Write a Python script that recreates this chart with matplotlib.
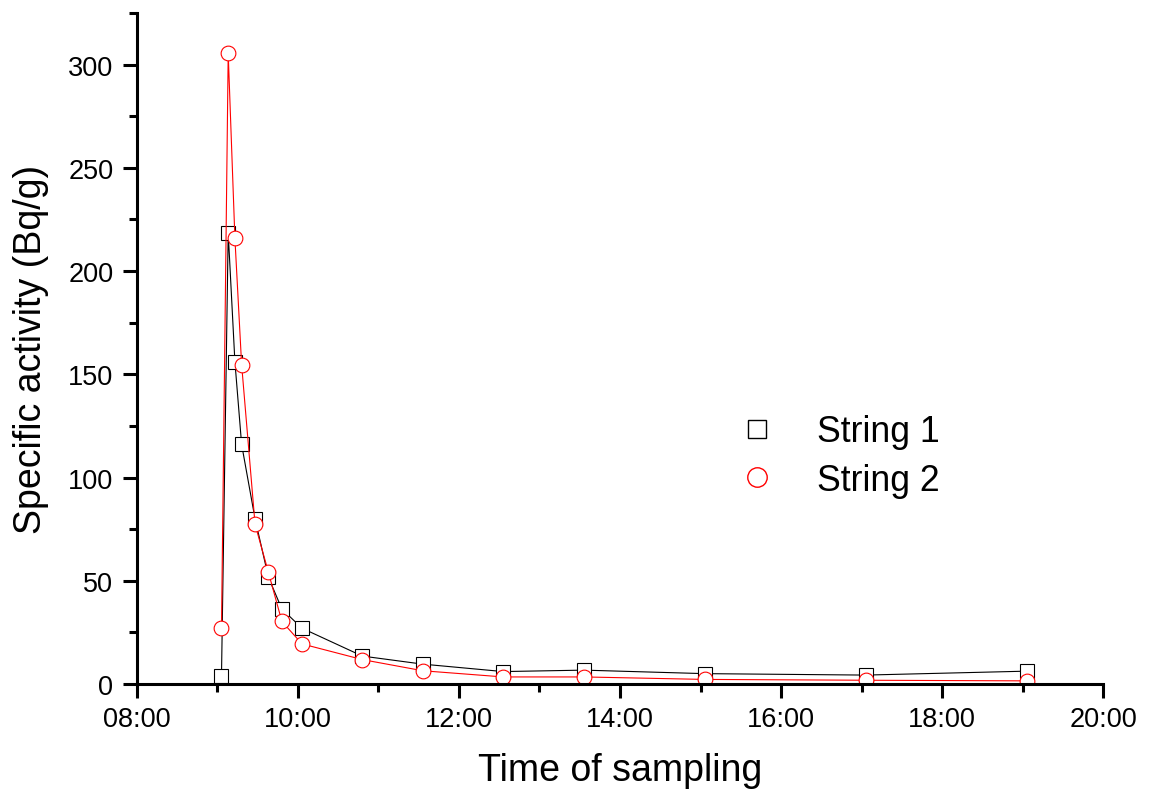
import numpy as np
import matplotlib
matplotlib.use('Agg')
import matplotlib.pyplot as plt
from matplotlib.lines import Line2D
from matplotlib.ticker import MultipleLocator, FuncFormatter

plt.rcParams['font.family'] = ['Liberation Sans', 'DejaVu Sans']

# sampling times (hh:mm) and specific activities in Bq/g
times = ['09:03', '09:08', '09:13', '09:18', '09:28', '09:38', '09:48', '10:03',
         '10:48', '11:33', '12:33', '13:33', '15:03', '17:03', '19:03']
string1 = [4.0, 218.5, 156.0, 116.0, 80.0, 51.6, 36.3, 27.0,
           13.5, 9.6, 6.0, 6.7, 5.0, 4.3, 6.2]
string2 = [27.2, 305.4, 215.8, 154.7, 77.4, 54.0, 30.3, 19.4,
           11.8, 6.4, 3.4, 3.4, 2.2, 1.8, 1.5]

hours = np.array([int(t[:2]) + int(t[3:]) / 60. for t in times])

fig = plt.figure(figsize=(11.49, 8.03), dpi=100)
ax = fig.add_axes([0.1192, 0.147, 0.8408, 0.8356])

ax.plot(hours, string1, color='black', linewidth=0.8, marker='s', markersize=9.6,
        markerfacecolor='white', markeredgecolor='black', markeredgewidth=0.8)
ax.plot(hours, string2, color='red', linewidth=0.8, marker='o', markersize=10.6,
        markerfacecolor='white', markeredgecolor='red', markeredgewidth=0.8)

ax.set_xlim(8, 20)
ax.set_ylim(0, 325)
ax.xaxis.set_major_locator(MultipleLocator(2))
ax.xaxis.set_minor_locator(MultipleLocator(1))
ax.yaxis.set_major_locator(MultipleLocator(50))
ax.yaxis.set_minor_locator(MultipleLocator(25))
ax.xaxis.set_major_formatter(FuncFormatter(lambda v, p: '%02d:00' % int(round(v))))

for side in ['top', 'right']:
    ax.spines[side].set_visible(False)
for side in ['left', 'bottom']:
    ax.spines[side].set_linewidth(2.2)

ax.tick_params(which='major', direction='out', length=10, width=2.2,
               labelsize=19.5, pad=6)
ax.tick_params(which='minor', direction='out', length=5.5, width=2.2)
ax.tick_params(axis='y', which='major', pad=7)

ax.set_xlabel('Time of sampling', fontsize=27, labelpad=14)
ax.set_ylabel('Specific activity (Bq/g)', fontsize=27, labelpad=14)

# legend shows markers only
handles = [Line2D([], [], linestyle='none', marker='s', markersize=12.5,
                  markerfacecolor='white', markeredgecolor='black', markeredgewidth=1.0),
           Line2D([], [], linestyle='none', marker='o', markersize=14,
                  markerfacecolor='white', markeredgecolor='red', markeredgewidth=1.0)]
leg = ax.legend(handles, ['String 1', 'String 2'], loc='center left',
                bbox_to_anchor=(725 / 1149., 0.431),
                bbox_transform=fig.transFigure, frameon=False, fontsize=25.7,
                handlelength=1.0, handletextpad=1.18, borderaxespad=0,
                labelspacing=0.38)

fig.savefig('out.png', dpi=100)
